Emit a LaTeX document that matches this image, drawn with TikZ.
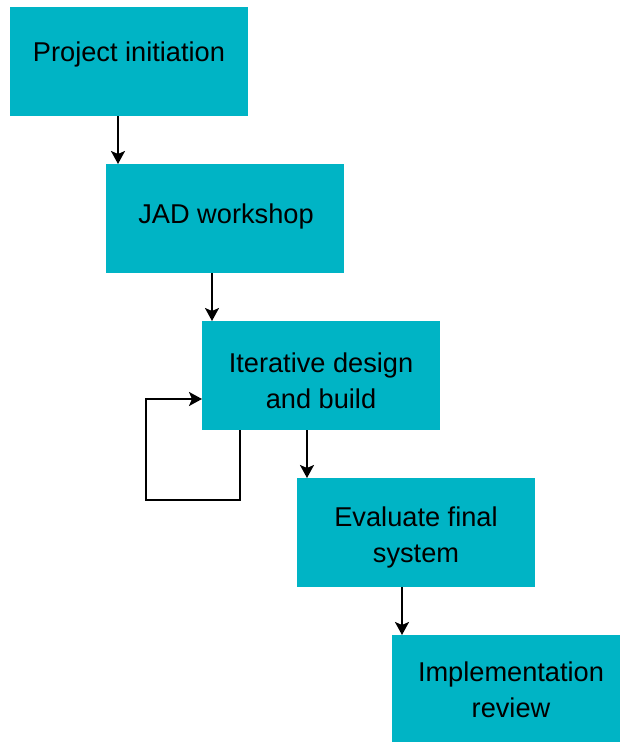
\documentclass[tikz,border=0pt]{standalone}
\usepackage{fontspec}
\setmainfont{Liberation Sans}
\usetikzlibrary{arrows.meta}
\definecolor{boxteal}{HTML}{00B4C5}
\begin{document}
\begin{tikzpicture}[x=1pt,y=-1pt,
  stepbox/.style={draw=none,fill=boxteal,minimum width=238pt,minimum height=109pt,anchor=north west,inner sep=0pt,outer sep=0pt},
  lbl/.style={font=\fontsize{27.2}{36}\selectfont,align=center,anchor=base,inner sep=0pt,text=black},
  arr/.style={line width=2pt,-{Stealth[length=13pt,width=14pt,inset=3pt]}},
  lin/.style={line width=2pt}]
\useasboundingbox (0,0) rectangle (620,742);
\clip (0,0) rectangle (620,742);
\node[stepbox] (b1) at (10,7) {};
\node[stepbox] (b2) at (106,164) {};
\node[stepbox] (b3) at (202,321) {};
\node[stepbox] (b4) at (297,478) {};
\node[stepbox] (b5) at (392,635) {};
\node[lbl] (t1) at (129,61) {Project initiation};
\node[lbl] (t2) at (226,223) {JAD workshop};
\node[lbl] (t3) at (321,408) {Iterative design\\and build};
\node[lbl] (t4) at (416,562) {Evaluate final\\system};
\node[lbl] (t5) at (511,717) {Implementation\\review};
\draw[arr] ([xshift=108pt]b1.south west) -- ([xshift=108pt]b1.south west |- b2.north);
\draw[arr] ([xshift=106pt]b2.south west) -- ([xshift=106pt]b2.south west |- b3.north);
\draw[arr] ([xshift=105pt]b3.south west) -- ([xshift=105pt]b3.south west |- b4.north);
\draw[arr] ([xshift=105pt]b4.south west) -- ([xshift=105pt]b4.south west |- b5.north);
\coordinate (lp) at (146,500);
\draw[arr] ([xshift=38pt]b3.south west) |- (lp) |- ([yshift=-78pt]b3.north west);
\end{tikzpicture}
\end{document}
